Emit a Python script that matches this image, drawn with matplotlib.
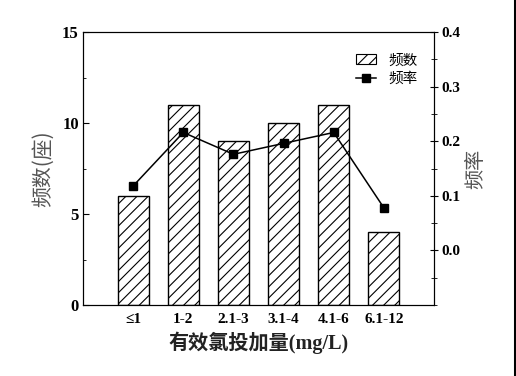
import matplotlib
matplotlib.use("Agg")
import matplotlib.pyplot as plt
from matplotlib.lines import Line2D
from matplotlib.patches import Patch
from matplotlib.ticker import MultipleLocator

categories = ["≤1", "1-2", "2.1-3", "3.1-4", "4.1-6", "6.1-12"]
counts = [6, 11, 9, 10, 11, 4]
freqs = [0.118, 0.216, 0.176, 0.196, 0.216, 0.078]

plt.rcParams['hatch.linewidth'] = 0.8
fam = ['Liberation Serif', 'Noto Sans CJK SC']
cjk = ['Noto Sans CJK SC', 'Liberation Serif']

fig = plt.figure(figsize=(5.16, 3.76), dpi=100)
ax = fig.add_axes([83/516, 1-305/376, (434-83)/516, (305-32)/376])
x = list(range(len(categories)))
ax.bar(x, counts, width=0.62, color='white', edgecolor='black', hatch='///', linewidth=1.0)
ax.set_xlim(-1, 6)
ax.set_ylim(0, 15)
ax.set_xticks(x)
ax.set_xticklabels(categories, fontfamily=fam, fontweight='bold', fontsize=11)
ax.tick_params(axis='x', length=0, pad=6)
ax.yaxis.set_major_locator(MultipleLocator(5))
ax.yaxis.set_minor_locator(MultipleLocator(2.5))
ax.tick_params(axis='y', which='major', direction='in', length=4, labelsize=12, pad=3)
ax.tick_params(axis='y', which='minor', direction='in', length=2.5)
for lab in ax.get_yticklabels():
    lab.set_fontfamily(fam); lab.set_fontweight('bold')
ax.set_ylabel("频数(座)", fontfamily=cjk, fontsize=15, color='#555555', labelpad=6)
ax.set_xlabel("有效氯投加量(mg/L)", fontfamily=fam, fontweight='bold', fontsize=14.5, color='#222222', labelpad=4)

ax2 = ax.twinx()
ax2.plot(x, freqs, color='black', linewidth=1.1, marker='s', markersize=6)
ax2.set_ylim(-0.1, 0.4)
ax2.set_yticks([0.0, 0.1, 0.2, 0.3, 0.4])
ax2.set_yticklabels(["0.0", "0.1", "0.2", "0.3", "0.4"])
ax2.yaxis.set_minor_locator(MultipleLocator(0.05))
ax2.tick_params(axis='y', which='major', direction='inout', length=6, labelsize=11, pad=2)
ax2.tick_params(axis='y', which='minor', direction='inout', length=4)
for lab in ax2.get_yticklabels():
    lab.set_fontfamily(fam); lab.set_fontweight('bold')
ax2.set_ylabel("频率", fontfamily=cjk, fontsize=14.5, color='#555555', labelpad=4)

handles = [Patch(facecolor='white', edgecolor='black', hatch='///', linewidth=0.8),
           Line2D([], [], color='black', marker='s', markersize=6, linewidth=1.1)]
leg = ax2.legend(handles, ["频数", "频率"], loc='upper right', bbox_to_anchor=(0.99, 0.97),
                 frameon=False, prop={'family': cjk, 'size': 10.5}, handlelength=1.4,
                 handletextpad=0.8, labelspacing=0.3)

fig.add_artist(Line2D([514.5/516, 514.5/516], [0, 1], color='black', linewidth=2.2, transform=fig.transFigure))

fig.savefig("out.png", dpi=100)
